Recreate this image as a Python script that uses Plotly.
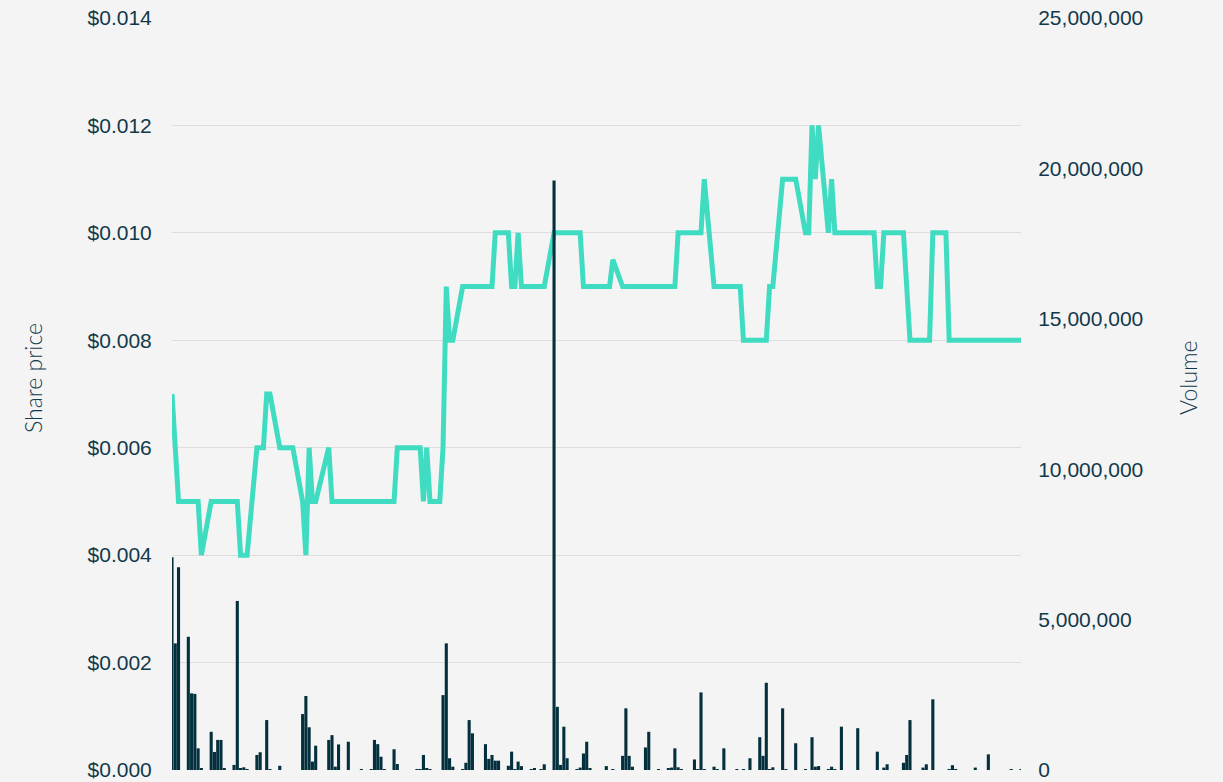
import pandas as pd
import plotly.graph_objects as go
from plotly.subplots import make_subplots

# Trading days (weekdays) shown on a calendar axis
start_date = "2023-03-01"
end_date = "2023-11-16"
dates = pd.bdate_range(start_date, end_date)

# Closing share price ($) per trading day, grouped by week (None = no trade)
price = [
    0.007, 0.006, 0.005,
    0.005, 0.005, 0.005, 0.005, 0.004,
    0.005, 0.005, 0.005, 0.005, 0.005,
    0.005, 0.005, 0.004, 0.004, 0.004,
    0.006, 0.006, 0.006, 0.007, 0.007,
    0.006, 0.006, 0.006, 0.006, 0.006,
    0.005, 0.004, 0.006, 0.005, 0.005,
    None, 0.006, 0.005, 0.005, 0.005,
    0.005, 0.005, 0.005, 0.005, 0.005,
    0.005, 0.005, 0.005, 0.005, 0.005,
    0.005, 0.006, 0.006, 0.006, 0.006,
    0.006, 0.006, 0.005, 0.006, 0.005,
    0.005, 0.006, 0.009, 0.008, 0.008,
    0.009, 0.009, 0.009, 0.009, 0.009,
    0.009, 0.009, 0.009, 0.010, 0.010,
    0.010, 0.009, 0.009, 0.010, 0.009,
    0.009, 0.009, 0.009, 0.009, 0.009,
    0.010, 0.010, 0.010, 0.010, 0.010,
    0.010, 0.010, 0.009, 0.009, 0.009,
    0.009, 0.009, 0.009, 0.009, 0.0095,
    0.009, 0.009, 0.009, 0.009, 0.009,
    0.009, 0.009, 0.009, 0.009, 0.009,
    0.009, 0.009, 0.009, 0.010, 0.010,
    0.010, 0.010, 0.010, 0.010, 0.011,
    0.009, 0.009, 0.009, 0.009, 0.009,
    0.009, 0.009, 0.008, 0.008, 0.008,
    0.008, 0.008, 0.008, 0.009, 0.009,
    0.011, 0.011, 0.011, 0.011, 0.011,
    0.010, 0.010, 0.012, 0.011, 0.012,
    0.010, 0.011, 0.010, 0.010, 0.010,
    0.010, 0.010, 0.010, 0.010, 0.010,
    0.010, 0.009, 0.009, 0.010, 0.010,
    0.010, 0.010, 0.010, 0.009, 0.008,
    0.008, 0.008, 0.008, 0.008, 0.010,
    0.010, 0.010, 0.008, 0.008, 0.008,
    0.008, 0.008, 0.008, 0.008, 0.008,
    0.008, 0.008, 0.008, 0.008, 0.008,
    0.008, 0.008, 0.008, 0.008,
]

# Daily volume in millions of shares, grouped by week
volume_millions = [
    7.07, 4.21, 6.74,
    4.43, 2.55, 2.53, 0.72, 0.04,
    1.27, 0.60, 1.00, 1.00, 0.05,
    0.17, 5.62, 0.06, 0.09, 0.03,
    0.50, 0.59, 0.00, 1.66, 0.03,
    0.14, 0.00, 0.00, 0.00, 0.00,
    1.86, 2.46, 1.42, 0.28, 0.81,
    0.00, 1.00, 1.16, 0.11, 0.85,
    0.94, 0.00, 0.00, 0.00, 0.02,
    0.02, 1.00, 0.86, 0.44, 0.03,
    0.69, 0.20, 0.00, 0.00, 0.00,
    0.02, 0.02, 0.50, 0.04, 0.02,
    0.00, 2.49, 4.21, 0.39, 0.11,
    0.02, 0.24, 1.66, 1.22, 0.00,
    0.86, 0.37, 0.50, 0.31, 0.31,
    0.14, 0.61, 0.02, 0.28, 0.13,
    0.02, 0.04, 0.00, 0.03, 0.19,
    19.6, 2.10, 0.17, 1.44, 0.39,
    0.02, 0.08, 0.55, 0.94, 0.04,
    0.00, 0.00, 0.13, 0.00, 0.03,
    0.47, 2.05, 0.47, 0.11, 0.00,
    0.75, 1.27, 0.00, 0.00, 0.02,
    0.04, 0.08, 0.72, 0.09, 0.02,
    0.00, 0.35, 0.02, 2.58, 0.02,
    0.11, 0.02, 0.00, 0.72, 0.00,
    0.02, 0.00, 0.02, 0.00, 0.39,
    1.09, 0.47, 2.90, 0.03, 0.09,
    2.05, 0.02, 0.00, 0.00, 0.89,
    0.02, 0.00, 1.09, 0.11, 0.13,
    0.02, 0.11, 0.02, 0.00, 1.44,
    0.00, 0.00, 1.39, 0.00, 0.00,
    0.00, 0.61, 0.00, 0.08, 0.19,
    0.00, 0.00, 0.24, 0.50, 1.66,
    0.00, 0.08, 0.19, 0.00, 2.35,
    0.00, 0.00, 0.02, 0.16, 0.02,
    0.00, 0.00, 0.00, 0.08, 0.00,
    0.52, 0.00, 0.00, 0.00, 0.00,
    0.02, 0.00, 0.00, 0.02,
]
volume = [v * 1_000_000 for v in volume_millions]

price_ticks = [0.000, 0.002, 0.004, 0.006, 0.008, 0.010, 0.012, 0.014]
volume_ticks = [0, 5_000_000, 10_000_000, 15_000_000, 20_000_000, 25_000_000]

TEXT = "#12394a"
LINE = "#3fdcc1"
BAR = "#04303d"
BG = "#f4f4f4"
TITLE_FONT = dict(family="Lato, sans-serif", size=23, color=TEXT, weight=300)

fig = make_subplots(specs=[[{"secondary_y": True}]])
fig.add_trace(
    go.Scatter(x=dates, y=price, mode="lines", connectgaps=True,
               line=dict(color=LINE, width=5), name="Share price"),
    secondary_y=False,
)
fig.add_trace(
    go.Bar(x=dates, y=volume, marker=dict(color=BAR, line=dict(width=0)),
           name="Volume"),
    secondary_y=True,
)

fig.update_layout(
    width=1223, height=782,
    margin=dict(l=172, r=202, t=18, b=12, autoexpand=False),
    paper_bgcolor=BG, plot_bgcolor=BG,
    showlegend=False, bargap=0.05,
    font=dict(family="Liberation Sans, Arial, sans-serif", color=TEXT, size=21),
)
fig.update_xaxes(type="date", range=[dates[0], dates[-1]], domain=[0, 1],
                 showticklabels=False, showgrid=False, zeroline=False,
                 showline=False, ticks="", automargin=False)
fig.update_yaxes(
    secondary_y=False, range=[0, 0.014], tickvals=price_ticks,
    tickformat="$.3f", showgrid=True, gridcolor="#dddddd",
    gridwidth=1, zeroline=False, showline=False, automargin=False,
    ticks="outside", ticklen=15, tickcolor="rgba(0,0,0,0)",
)
fig.update_yaxes(
    secondary_y=True, range=[0, 25_000_000], tickvals=volume_ticks,
    tickformat=",d", showgrid=False, zeroline=False, showline=False,
    automargin=False,
    ticks="outside", ticklen=12, tickcolor="rgba(0,0,0,0)",
)

# Axis titles (placed relative to the plot area, rotated)
plot_h = 782 - 18 - 12
title_y = 1 - (378 - 18) / plot_h
fig.add_annotation(text="Share price", xref="paper", yref="paper",
                   x=(33 - 172) / 849, y=title_y, textangle=-90,
                   showarrow=False, xanchor="center", yanchor="middle",
                   font=TITLE_FONT)
fig.add_annotation(text="Volume", xref="paper", yref="paper",
                   x=(1188 - 172) / 849, y=title_y, textangle=-90,
                   showarrow=False, xanchor="center", yanchor="middle",
                   font=TITLE_FONT)

fig.write_html("out.html", config={"displayModeBar": False},
               post_script="document.body.style.margin='0';")
